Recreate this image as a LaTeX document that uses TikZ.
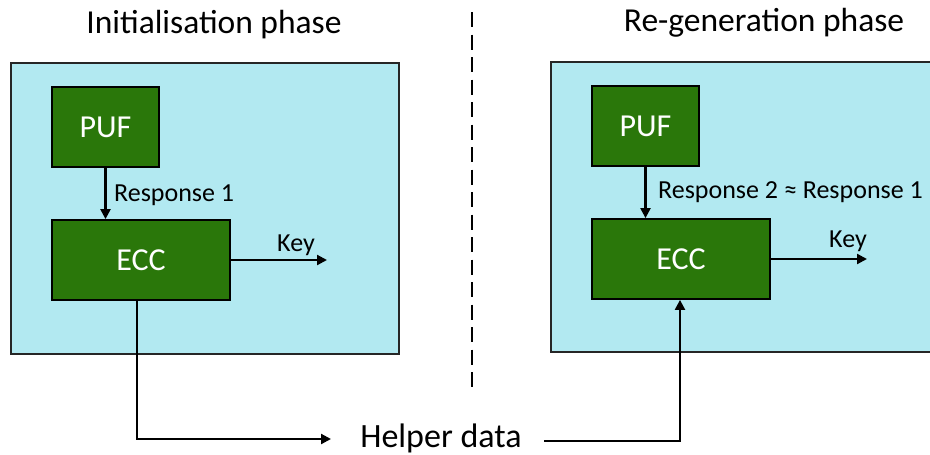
\documentclass[tikz,border=0pt]{standalone}
\usepackage{fontspec}
\setmainfont{Carlito}
\usetikzlibrary{arrows.meta}
\definecolor{panelcyan}{HTML}{B2E9F1}
\definecolor{blockgreen}{HTML}{2A770A}
\tikzset{
  panel/.style={draw=black!85, line width=1.8pt, fill=panelcyan, rectangle, inner sep=0pt},
  block/.style={draw=black, line width=1.8pt, fill=blockgreen, text=white, rectangle,
    inner sep=0pt, font=\fontsize{32}{38}\selectfont},
  heading/.style={font=\fontsize{33.5}{40}\selectfont, inner sep=0pt},
  lbl/.style={font=\fontsize{26}{31}\selectfont, inner sep=0pt},
  tip/.style={-{Triangle[length=10pt,width=10pt]}},
  arr/.style={line width=2.2pt, tip},
  wire/.style={line width=2.2pt}
}
\begin{document}
\begin{tikzpicture}[x=1pt, y=-1pt]
\useasboundingbox (0,0) rectangle (930,455);
\clip (0,0) rectangle (930,455);

% headings and phase separator
\node[heading] (t1) at (214,25) {Initialisation phase};
\node[heading] (t2) at (764,23) {Re-generation phase};
\coordinate (sepTop) at (472,12);
\coordinate (sepBot) at (472,388);
\draw[line width=2pt, dash pattern=on 15pt off 7.5pt] (sepTop) -- (sepBot);

% initialisation panel
\node[panel, minimum width=388pt, minimum height=291pt] (box1) at (205,208.5) {};
\node[block, minimum width=107pt, minimum height=80pt] (puf1) at (105.5,127) {PUF};
\node[block, minimum width=178pt, minimum height=80pt] (ecc1) at (141,260) {ECC};
\draw[arr] (puf1.south) -- (puf1.south |- ecc1.north);
\node[lbl, anchor=base west] (r1) at (114,201) {Response 1};
\coordinate (key1) at (327,260);
\draw[arr] (ecc1.east) -- (key1);
\node[lbl, anchor=base west] (k1) at (277,251) {Key};

% re-generation panel
\node[panel, minimum width=400pt, minimum height=290pt] (box2) at (751,207) {};
\node[block, minimum width=107pt, minimum height=80pt] (puf2) at (645.5,126) {PUF};
\node[block, minimum width=178pt, minimum height=80pt] (ecc2) at (681,259) {ECC};
\draw[arr] (puf2.south) -- (puf2.south |- ecc2.north);
\node[lbl, anchor=base west] (r2) at (658,198) {Response 2 ≈ Response 1};
\coordinate (key2) at (867,259);
\draw[arr] (ecc2.east) -- (key2);
\node[lbl, anchor=base west] (k2) at (829,247) {Key};

% helper data path between the phases
\node[font=\fontsize{34}{40}\selectfont, inner sep=0pt, anchor=base] (helper) at (441,447) {Helper data};
\coordinate (hin) at (331,439);
\coordinate (hout) at (544,441);
\draw[wire, tip] ([xshift=-4pt]ecc1.south) |- (hin);
\draw[arr] (hout) -| ([xshift=-1pt]ecc2.south);
\end{tikzpicture}
\end{document}
